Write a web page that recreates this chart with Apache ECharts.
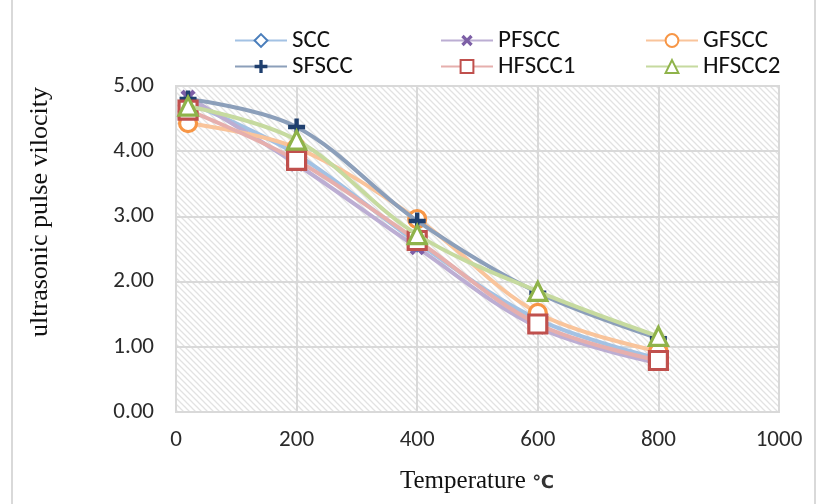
<!DOCTYPE html>
<html>
<head>
<meta charset="utf-8">
<script src="https://cdn.jsdelivr.net/npm/echarts@6/dist/echarts.min.js"></script>
<style>html,body{margin:0;padding:0;background:#fff;}#c{width:828px;height:504px;}</style>
</head>
<body>
<div id="c"></div>
<script>
// ---- data ----
const temperatures = [20, 200, 400, 600, 800];
const seriesNames = ['SCC', 'PFSCC', 'GFSCC', 'SFSCC', 'HFSCC1', 'HFSCC2'];
const SCC    = [4.75, 3.95, 2.60, 1.42, 0.82];
const PFSCC  = [4.83, 3.80, 2.52, 1.30, 0.75];
const GFSCC  = [4.43, 4.05, 2.96, 1.52, 0.93];
const SFSCC  = [4.80, 4.37, 2.93, 1.83, 1.13];
const HFSCC1 = [4.63, 3.86, 2.63, 1.35, 0.79];
const HFSCC2 = [4.69, 4.17, 2.72, 1.85, 1.16];
const yTicks = ['0.00', '1.00', '2.00', '3.00', '4.00', '5.00'];
const xTicks = ['0', '200', '400', '600', '800', '1000'];
const yTitle = 'ultrasonic pulse vilocity';
const xTitle = 'Temperature ';
const xUnit = '℃';

const valuesByName = {SCC, PFSCC, GFSCC, SFSCC, HFSCC1, HFSCC2};

// hatch pattern
const pc = document.createElement('canvas');
pc.width = 6; pc.height = 6;
const g = pc.getContext('2d');
g.fillStyle = '#ffffff'; g.fillRect(0, 0, 6, 6);
g.strokeStyle = '#e2e2e2'; g.lineWidth = 1.3;
g.beginPath();
g.moveTo(-1, -1); g.lineTo(7, 7);
g.moveTo(-4, 2); g.lineTo(4, 10);
g.moveTo(2, -4); g.lineTo(10, 4);
g.stroke();

const plus = 'path://M3.7,0H6.3V3.7H10V6.3H6.3V10H3.7V6.3H0V3.7H3.7Z';
const SANS = 'Carlito, "Noto Sans", sans-serif';

const styles = {
  SCC:    {line: '#a3c2e4', mark: '#4a7ebb', symbol: 'diamond', size: 16, fill: '#fff', rot: 0},
  PFSCC:  {line: '#bcaed3', mark: '#7d5fa6', symbol: plus, size: 17, fill: '#7d5fa6', rot: 45},
  GFSCC:  {line: '#f9c49b', mark: '#f79646', symbol: 'circle', size: 17, fill: '#fff', rot: 0},
  SFSCC:  {line: '#8c9fba', mark: '#1f3f6e', symbol: plus, size: 17, fill: '#1f3f6e', rot: 0},
  HFSCC1: {line: '#e6afad', mark: '#c0504d', symbol: 'rect', size: 18, fill: '#fff', rot: 0},
  HFSCC2: {line: '#c6da9f', mark: '#8fb34a', symbol: 'triangle', size: 18, fill: '#fff', rot: 0}
};

const series = seriesNames.map((name, i) => {
  const s = styles[name];
  const hollow = s.fill === '#fff';
  return {
    name: name,
    type: 'line',
    smooth: 0.35,
    z: 2 + i,
    data: temperatures.map((t, k) => [t, valuesByName[name][k]]),
    symbol: s.symbol,
    symbolSize: s.size,
    symbolRotate: s.rot,
    lineStyle: {color: s.line, width: 4},
    itemStyle: {color: s.fill, borderColor: s.mark, borderWidth: hollow ? 3.2 : 0},
    color: s.mark
  };
});

const legendPos = [
  {left: 234, top: 28}, {left: 440, top: 28}, {left: 645, top: 28},
  {left: 234, top: 54}, {left: 440, top: 54}, {left: 645, top: 54}
];
const legends = seriesNames.map((name, i) => ({
  data: [name],
  left: legendPos[i].left,
  top: legendPos[i].top,
  padding: 0,
  itemWidth: 52,
  itemHeight: 16,
  itemGap: 0,
  textStyle: {fontFamily: SANS, fontSize: 25, color: '#111', padding: [0, 0, 0, 0]},
  backgroundColor: '#fff'
}));

const chart = echarts.init(document.getElementById('c'), null, {renderer: 'canvas'});
chart.setOption({
  animation: false,
  backgroundColor: '#fff',
  legend: legends,
  grid: {left: 176, right: 49, top: 86, bottom: 92, show: true,
         backgroundColor: {image: pc, repeat: 'repeat'}, borderColor: '#d9d9d9', borderWidth: 2},
  xAxis: {
    type: 'value', min: 0, max: 1000, interval: 200,
    axisLine: {show: false}, axisTick: {show: false},
    splitLine: {show: true, lineStyle: {color: '#d9d9d9', width: 2}},
    axisLabel: {margin: 17, fontFamily: SANS, fontSize: 23, color: '#2a2a2a',
      formatter: v => xTicks[Math.round(v / 200)]}
  },
  yAxis: {
    type: 'value', min: 0, max: 5, interval: 1,
    axisLine: {show: false}, axisTick: {show: false},
    splitLine: {show: true, lineStyle: {color: '#d9d9d9', width: 2}},
    axisLabel: {margin: 22, fontFamily: SANS, fontSize: 23, color: '#2a2a2a',
      formatter: v => yTicks[Math.round(v)]}
  },
  graphic: [{
    type: 'rect', silent: true, z: -10,
    shape: {x: 12, y: -5, width: 803, height: 520},
    style: {fill: 'none', stroke: '#d9d9d9', lineWidth: 2}
  }, {
    type: 'text', silent: true,
    x: 40, y: 212, rotation: Math.PI / 2,
    style: {text: yTitle, font: '26px "Liberation Serif", serif', fill: '#111',
            align: 'center', verticalAlign: 'middle'}
  }, {
    type: 'text', silent: true,
    x: 477, y: 481,
    style: {text: '{a|' + xTitle + '}{b|' + xUnit + '}', align: 'center', verticalAlign: 'middle',
      rich: {
        a: {font: '25px "Liberation Serif", serif', fill: '#111'},
        b: {font: 'bold 18px "DejaVu Sans", sans-serif', fill: '#333', padding: [4, 0, 0, 0]}
      }}
  }],
  series: series
});
</script>
</body>
</html>
